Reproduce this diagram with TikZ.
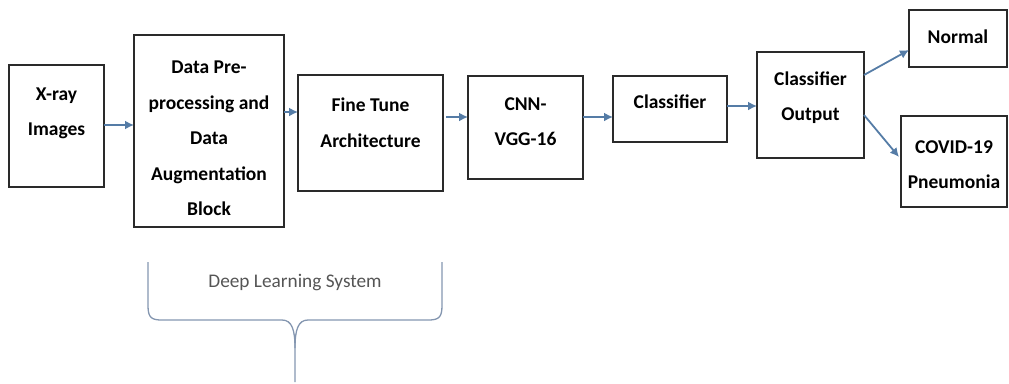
\documentclass[tikz,border=0pt]{standalone}
\usepackage{fontspec}
\setmainfont{Carlito}
\usetikzlibrary{arrows.meta}
\definecolor{arrowblue}{HTML}{557CA6}
\definecolor{bracecol}{HTML}{8496B0}
\definecolor{boxline}{HTML}{2A2A2A}
\definecolor{graytext}{HTML}{555555}
\tikzset{
  box/.style={draw=boxline, line width=1.2pt, fill=white, inner sep=0pt, outer sep=0pt},
  txt/.style={align=center, inner sep=0pt, font=\fontsize{19.5}{35.5}\selectfont\bfseries},
  arr/.style={draw=arrowblue, line width=1.8pt, -{Latex[length=9pt,width=9pt]}},
}
\begin{document}
\begin{tikzpicture}[x=1pt,y=-1pt]
\useasboundingbox (0,0) rectangle (1009,383);
% boxes
\node[box, minimum width=95pt, minimum height=122pt] (xray) at (56.5,126) {};
\node[box, minimum width=150pt, minimum height=192pt] (data) at (209,131) {};
\node[box, minimum width=145pt, minimum height=116pt] (fine) at (370.5,133) {};
\node[box, minimum width=115pt, minimum height=103pt] (cnn) at (525.5,127.5) {};
\node[box, minimum width=114pt, minimum height=66pt] (cls) at (670,109) {};
\node[box, minimum width=107pt, minimum height=106pt] (out) at (810.5,105) {};
\node[box, minimum width=98pt, minimum height=57pt] (normal) at (958,38.5) {};
\node[box, minimum width=106pt, minimum height=91pt] (covid) at (954,161.5) {};
% texts
\node[txt] (xrayt) at (56.5,113.5) {X-ray\\Images};
\node[txt] (datat) at (209,138.5) {Data Pre-\\processing and\\Data\\Augmentation\\Block};
\node[txt] (finet) at (370.5,122.5) {Fine Tune\\Architecture};
\node[txt] (cnnt) at (525.5,121.5) {CNN-\\VGG-16};
\node[txt] (clst) at (670,102) {Classifier};
\node[txt] (outt) at (810.5,97.5) {Classifier\\Output};
\node[txt] (normalt) at (958,37) {Normal};
\node[txt] (covidt) at (954,164.5) {COVID-19\\Pneumonia};
% arrows
\draw[arr] (xray.east |- 0,125) -- (data.west |- 0,125);
\draw[arr] (data.east |- 0,112) -- (fine.west |- 0,112);
\draw[arr] ([xshift=3pt]fine.east |- 0,117) -- (cnn.west |- 0,117);
\draw[arr] (cnn.east |- 0,117) -- (cls.west |- 0,117);
\draw[arr] (cls.east |- 0,106) -- (out.west |- 0,106);
\draw[arr] (out.east |- 0,75) -- (normal.west |- 0,50);
\draw[arr] (out.east |- 0,115) -- ([xshift=-2pt]covid.west |- 0,157);
% brace
\coordinate (bl) at (148,262);
\coordinate (br) at (442,262);
\coordinate (btip) at (295,382);
\draw[bracecol, line width=1.3pt]
  (bl) -- (148,306) .. controls (148,318) and (152,320) .. (162,320)
  -- (282,320) .. controls (292,320) and (295,330) .. (295,348) -- (btip);
\draw[bracecol, line width=1.3pt]
  (br) -- (442,306) .. controls (442,318) and (438,320) .. (428,320)
  -- (308,320) .. controls (298,320) and (295,330) .. (295,348);
\node[font=\fontsize{19.3}{21}\selectfont, text=graytext] (dls) at (295,283) {Deep Learning System};
\end{tikzpicture}
\end{document}
